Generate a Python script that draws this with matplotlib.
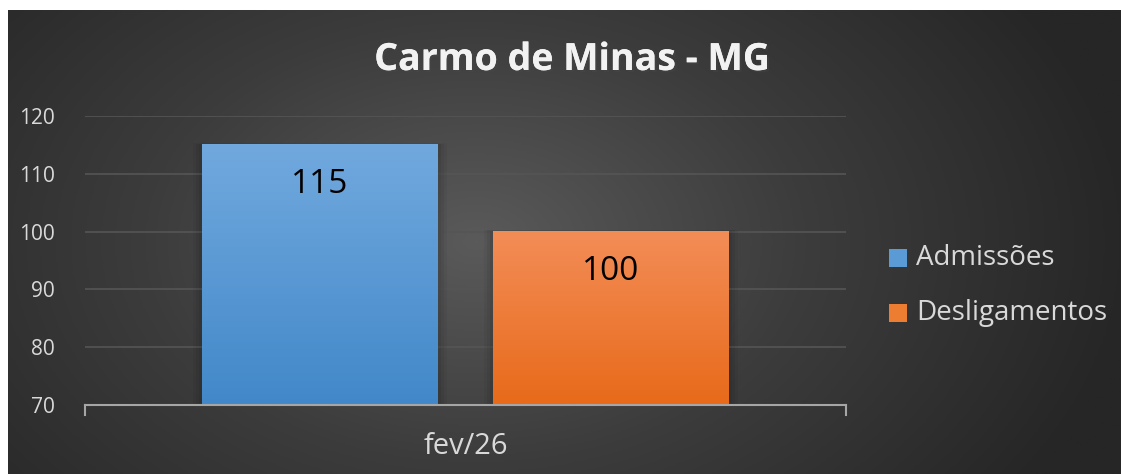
import matplotlib.pyplot as plt
import matplotlib.patheffects as pe
import numpy as np
from matplotlib.patches import Rectangle
from matplotlib.colors import LinearSegmentedColormap

# data
category = "fev/26"
series = ["Admissões", "Desligamentos"]
values = [115, 100]
y_ticks = [70, 80, 90, 100, 110, 120]
title = "Carmo de Minas - MG"

# colours (top, bottom of each bar)
bar_colors = [("#71a9de", "#4288c9"), ("#f38d57", "#e86a1a")]
legend_colors = ["#5b9bd5", "#ed7d31"]
text_color = "#d9d9d9"

plt.rcParams['font.family'] = ['Open Sans', 'DejaVu Sans']

W, H, DPI = 1121, 474, 100
fig = plt.figure(figsize=(W / DPI, H / DPI), dpi=DPI)
fig.patch.set_facecolor("white")

# dark radial background of the chart area
bg = fig.add_axes([8 / W, 0, 1 - 8 / W, 1 - 10 / H])
bg.set_axis_off()
yy, xx = np.mgrid[0:1:300j, 0:1:700j]
r = np.sqrt(((xx - 0.42) * 1.6) ** 2 + ((yy - 0.5) * 1.0) ** 2)
bg_cmap = LinearSegmentedColormap.from_list("bg", ["#5a5a5a", "#3c3c3c", "#262626"])
bg.imshow(r, cmap=bg_cmap, aspect="auto", extent=[0, 1, 0, 1], vmin=0, vmax=0.95)
bg.set_xlim(0, 1)
bg.set_ylim(0, 1)

# plot area
x0, x1 = 85, 846
ax = fig.add_axes([x0 / W, 1 - 405 / H, (x1 - x0) / W, (405 - 116) / H])
ax.patch.set_alpha(0)

width = 0.31
offsets = [-0.191, 0.191]
for i, (val, off) in enumerate(zip(values, offsets)):
    top, bottom = bar_colors[i]
    left = off - width / 2
    # soft shadow
    for k, a in enumerate([0.06, 0.05, 0.04]):
        d = 0.004 * (k + 1)
        ax.add_patch(Rectangle((left - d, 70), width + 2 * d, val - 70 + d * 30,
                               facecolor="black", alpha=a, edgecolor="none", zorder=2))
    cmap = LinearSegmentedColormap.from_list("b%d" % i, [bottom, top])
    grad = np.linspace(0, 1, 256).reshape(-1, 1)
    ax.imshow(grad, cmap=cmap, aspect="auto", origin="lower",
              extent=[left, left + width, 70, val], zorder=3)
    ax.text(off, val - 6.9, str(val), ha="center", va="center",
            fontsize=24, color="black", zorder=4)

ax.set_xlim(-0.5, 0.5)
ax.set_ylim(70, 120)

ax.set_yticks(y_ticks)
ax.set_yticklabels([str(t) for t in y_ticks], color=text_color, fontsize=15)
for t in y_ticks[1:]:
    ax.axhline(t, color="#555555", lw=1.2, zorder=1)
ax.tick_params(axis="y", length=0, pad=22)
ax.set_xticks([])
for s in ["top", "right", "left"]:
    ax.spines[s].set_visible(False)
ax.spines["bottom"].set_color("#a6a6a6")
ax.spines["bottom"].set_linewidth(1.5)
ax.spines["bottom"].set_zorder(5)
# end tick marks of the category axis
for xe in [-0.5, 0.5]:
    ax.plot([xe, xe], [70, 68.3], color="#a6a6a6", lw=1.5, clip_on=False, zorder=5)

ax.text(0, 62.9, category, ha="center", va="center", color=text_color, fontsize=21)

fig.text(572 / W, 1 - 60 / H, title, ha="center", va="center",
         color="#f2f2f2", fontsize=27, fontweight="bold",
         path_effects=[pe.withSimplePatchShadow(offset=(1.5, -1.5), alpha=0.35),
                       pe.Normal()])

# legend
for i, name in enumerate(series):
    yc = 1 - (258 + 55 * i) / H
    fig.patches.append(Rectangle((889 / W, yc - 9 / H), 18 / W, 18 / H,
                                 facecolor=legend_colors[i], edgecolor="none",
                                 transform=fig.transFigure, figure=fig))
    fig.text(916 / W, yc, name, ha="left", va="center", color=text_color, fontsize=20)

fig.savefig("out.png", dpi=DPI, facecolor=fig.get_facecolor())
